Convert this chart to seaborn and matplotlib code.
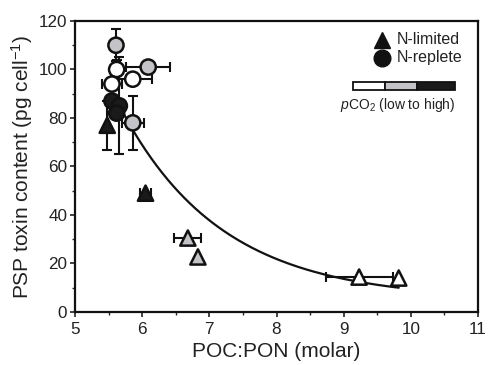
import numpy as np
import pandas as pd
import matplotlib
matplotlib.use("Agg")
import matplotlib.pyplot as plt
from matplotlib.patches import Rectangle
import seaborn as sns

# POC:PON ratio, toxin content and their errors for each culture
poc_pon = [5.61, 6.09, 5.62, 5.86, 5.55, 5.55, 5.66, 5.62, 5.86,
           5.48, 6.05, 6.68, 6.83, 9.23, 9.82]
toxin = [110, 101, 100, 96, 94, 87, 85, 82, 78,
         77, 49, 30.5, 22.7, 14.4, 14]
poc_err = [0, 0.33, 0, 0.29, 0.15, 0, 0, 0, 0.16,
           0, 0.08, 0.2, 0, 0.5, 0]
toxin_err = [6.5, 0, 4, 0, 0, 0, 20, 0, 11,
             10, 0, 0, 0, 0, 0]
nutrient = ["N-replete"] * 9 + ["N-limited"] * 6
pco2 = ["mid", "mid", "low", "low", "low", "high", "high", "high", "mid",
        "high", "high", "mid", "mid", "low", "low"]

# exponential fit through all cultures: y = c + a * exp(-k (x - x0))
fit_c, fit_a, fit_k, fit_x0 = 5.0, 78.0, 0.666, 5.7
fit_range = (5.72, 9.82)

df = pd.DataFrame({"poc_pon": poc_pon, "toxin": toxin, "xerr": poc_err,
                   "yerr": toxin_err, "nutrient": nutrient, "pco2": pco2})

fills = {"low": "#ffffff", "mid": "#c4c4c8", "high": "#1a1a1a"}

sns.set_theme(style="ticks")
plt.rcParams["font.family"] = ["Liberation Sans", "DejaVu Sans"]
plt.rcParams["mathtext.fontset"] = "custom"
plt.rcParams["mathtext.rm"] = "Liberation Sans"
plt.rcParams["mathtext.it"] = "Liberation Sans:italic"

fig = plt.figure(figsize=(4.88, 3.65), dpi=100)
ax = fig.add_axes([0.1537, 0.1452, 0.8258, 0.7973])

# error bars first so the markers sit on top
for _, r in df.iterrows():
    ax.errorbar(r.poc_pon, r.toxin,
                xerr=r.xerr if r.xerr > 0 else None,
                yerr=r.yerr if r.yerr > 0 else None,
                fmt="none", ecolor="#111111", elinewidth=1.5,
                capsize=3.5, capthick=1.5, zorder=2)

# fitted curve
xf = np.linspace(*fit_range, 200)
yf = fit_c + fit_a * np.exp(-fit_k * (xf - fit_x0))
ax.plot(xf, yf, color="#111111", lw=1.6, zorder=3)

sns.scatterplot(data=df, x="poc_pon", y="toxin", hue="pco2", style="nutrient",
                palette=fills, markers={"N-limited": "^", "N-replete": "o"},
                s=120, edgecolor="#111111", linewidth=1.8, legend=False,
                ax=ax, zorder=4)

ax.set_xlim(5, 11)
ax.set_ylim(0, 120)
ax.set_xticks(range(5, 12))
ax.set_xticks(np.arange(5.5, 11, 1.0), minor=True)
ax.set_yticks(range(0, 121, 20))
ax.set_yticks(range(10, 120, 20), minor=True)
ax.tick_params(which="major", direction="out", length=3.5, width=1.2,
               labelsize=12.3, colors="#222222", pad=2)
ax.tick_params(axis="x", which="major", pad=4)
ax.tick_params(which="minor", direction="out", length=2.5, width=1.0)
for s in ax.spines.values():
    s.set_visible(True)
    s.set_linewidth(1.6)
    s.set_color("#111111")

ax.set_xlabel("POC:PON (molar)", fontsize=15, color="#222222", labelpad=3)
ax.set_ylabel("PSP toxin content (pg cell$^{-1}$)", fontsize=15,
              color="#222222", labelpad=3)

# key: nutrient symbols
ax.plot(0.762, 0.935, marker="^", ms=12, color="#111111",
        transform=ax.transAxes, clip_on=False)
ax.plot(0.762, 0.873, marker="o", ms=12, color="#111111",
        transform=ax.transAxes, clip_on=False)
ax.text(0.799, 0.935, "N-limited", transform=ax.transAxes, fontsize=11.5,
        va="center", ha="left", color="#222222")
ax.text(0.799, 0.873, "N-replete", transform=ax.transAxes, fontsize=11.5,
        va="center", ha="left", color="#222222")

# key: pCO2 bar
bar_edges = [0.690, 0.770, 0.849, 0.943]
for (x0, x1), lvl in zip(zip(bar_edges[:-1], bar_edges[1:]),
                         ["low", "mid", "high"]):
    ax.add_patch(Rectangle((x0, 0.763), x1 - x0, 0.027, transform=ax.transAxes,
                           facecolor=fills[lvl], edgecolor="#111111", lw=1.3,
                           clip_on=False))
ax.text(0.658, 0.711, r"$p$CO$_2$ (low to high)", transform=ax.transAxes,
        fontsize=10, va="center", ha="left", color="#222222")

fig.savefig("out.png", dpi=100)
